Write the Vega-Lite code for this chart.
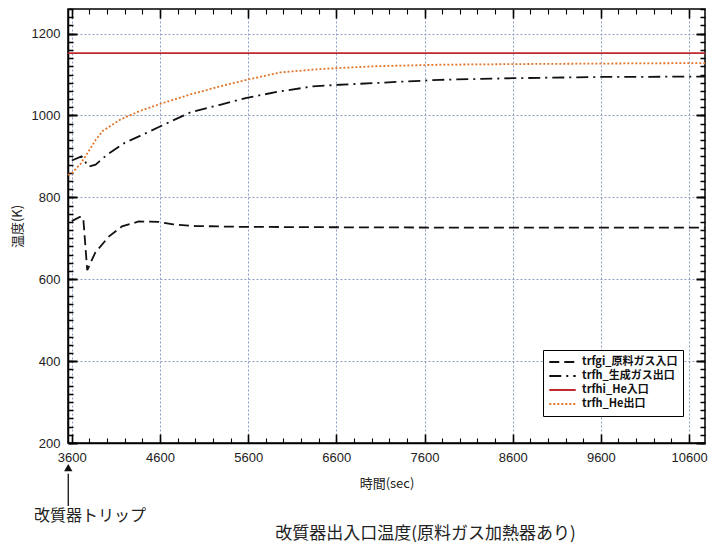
{
  "$schema": "https://vega.github.io/schema/vega-lite/v6.json",
  "width": 637,
  "height": 434,
  "autosize": {"type": "none"},
  "padding": {"left": 68, "top": 9, "right": 10, "bottom": 107},
  "background": "white",
  "config": {
    "view": {"stroke": "black", "strokeWidth": 1.5},
    "font": "Liberation Sans",
    "axis": {"labelColor": "#222", "labelFontSize": 13, "titleColor": "#222", "titleFontWeight": "normal", "domainColor": "black", "tickColor": "black"}
  },
  "title": {"text": "改質器出入口温度(原料ガス加熱器あり)", "orient": "bottom", "anchor": "middle", "dx": 39, "offset": 2, "fontSize": 17, "font": "Noto Sans CJK JP", "fontWeight": "normal", "color": "#222"},
  "datasets": {
    "series": [
      {"s": "trfgi_原料ガス入口", "t": 3600, "T": 742},
      {"s": "trfgi_原料ガス入口", "t": 3690, "T": 752},
      {"s": "trfgi_原料ガス入口", "t": 3730, "T": 750},
      {"s": "trfgi_原料ガス入口", "t": 3775, "T": 622},
      {"s": "trfgi_原料ガス入口", "t": 3866, "T": 665},
      {"s": "trfgi_原料ガス入口", "t": 4019, "T": 704},
      {"s": "trfgi_原料ガス入口", "t": 4169, "T": 729},
      {"s": "trfgi_原料ガス入口", "t": 4359, "T": 741},
      {"s": "trfgi_原料ガス入口", "t": 4586, "T": 740},
      {"s": "trfgi_原料ガス入口", "t": 4750, "T": 734},
      {"s": "trfgi_原料ガス入口", "t": 5000, "T": 730},
      {"s": "trfgi_原料ガス入口", "t": 5500, "T": 728},
      {"s": "trfgi_原料ガス入口", "t": 6500, "T": 727},
      {"s": "trfgi_原料ガス入口", "t": 8000, "T": 726},
      {"s": "trfgi_原料ガス入口", "t": 10781, "T": 726},
      {"s": "trfh_生成ガス出口", "t": 3600, "T": 890},
      {"s": "trfh_生成ガス出口", "t": 3710, "T": 900},
      {"s": "trfh_生成ガス出口", "t": 3790, "T": 875},
      {"s": "trfh_生成ガス出口", "t": 3870, "T": 880},
      {"s": "trfh_生成ガス出口", "t": 4000, "T": 904},
      {"s": "trfh_生成ガス出口", "t": 4200, "T": 933},
      {"s": "trfh_生成ガス出口", "t": 4374, "T": 950},
      {"s": "trfh_生成ガス出口", "t": 4600, "T": 973},
      {"s": "trfh_生成ガス出口", "t": 4940, "T": 1007},
      {"s": "trfh_生成ガス出口", "t": 5281, "T": 1026},
      {"s": "trfh_生成ガス出口", "t": 5584, "T": 1043},
      {"s": "trfh_生成ガス出口", "t": 5963, "T": 1059},
      {"s": "trfh_生成ガス出口", "t": 6336, "T": 1071},
      {"s": "trfh_生成ガス出口", "t": 6642, "T": 1075},
      {"s": "trfh_生成ガス出口", "t": 7014, "T": 1079},
      {"s": "trfh_生成ガス出口", "t": 7774, "T": 1087},
      {"s": "trfh_生成ガス出口", "t": 8600, "T": 1091},
      {"s": "trfh_生成ガス出口", "t": 9600, "T": 1094},
      {"s": "trfh_生成ガス出口", "t": 10781, "T": 1095},
      {"s": "trfhi_He入口", "t": 3557, "T": 1152},
      {"s": "trfhi_He入口", "t": 10781, "T": 1152},
      {"s": "trfh_He出口", "t": 3557, "T": 855},
      {"s": "trfh_He出口", "t": 3600, "T": 859},
      {"s": "trfh_He出口", "t": 3700, "T": 882},
      {"s": "trfh_He出口", "t": 3790, "T": 912},
      {"s": "trfh_He出口", "t": 3870, "T": 940},
      {"s": "trfh_He出口", "t": 3950, "T": 962},
      {"s": "trfh_He出口", "t": 4150, "T": 990},
      {"s": "trfh_He出口", "t": 4374, "T": 1011},
      {"s": "trfh_He出口", "t": 4600, "T": 1028},
      {"s": "trfh_He出口", "t": 4940, "T": 1051},
      {"s": "trfh_He出口", "t": 5281, "T": 1071},
      {"s": "trfh_He出口", "t": 5584, "T": 1087},
      {"s": "trfh_He出口", "t": 5963, "T": 1105},
      {"s": "trfh_He出口", "t": 6336, "T": 1112},
      {"s": "trfh_He出口", "t": 6642, "T": 1116},
      {"s": "trfh_He出口", "t": 7014, "T": 1120},
      {"s": "trfh_He出口", "t": 7774, "T": 1124},
      {"s": "trfh_He出口", "t": 9000, "T": 1126},
      {"s": "trfh_He出口", "t": 10781, "T": 1128}
    ],
    "arrow": [
      {"t": 3560, "T": 46, "T2": 125}
    ],
    "head": [
      {"t": 3560, "T": 140}
    ],
    "label": [
      {"t": 3806, "T": 22, "txt": "改質器トリップ"}
    ]
  },
  "resolve": {"axis": {"x": "independent", "y": "independent"}},
  "layer": [
    {
      "data": {"name": "series"},
      "mark": {"type": "line", "opacity": 0},
      "encoding": {
        "x": {"field": "t", "type": "quantitative", "axis": {"orient": "bottom", "values": [3600, 3800, 4000, 4200, 4400, 4600, 4800, 5000, 5200, 5400, 5600, 5800, 6000, 6200, 6400, 6600, 6800, 7000, 7200, 7400, 7600, 7800, 8000, 8200, 8400, 8600, 8800, 9000, 9200, 9400, 9600, 9800, 10000, 10200, 10400, 10600], "labels": false, "ticks": false, "domain": false, "grid": true, "gridColor": "black", "gridWidth": 1.1, "gridDash": [5, 424, 5, 0], "title": null}},
        "y": {"field": "T", "type": "quantitative", "axis": {"orient": "left", "values": [200, 220, 240, 260, 280, 300, 320, 340, 360, 380, 400, 420, 440, 460, 480, 500, 520, 540, 560, 580, 600, 620, 640, 660, 680, 700, 720, 740, 760, 780, 800, 820, 840, 860, 880, 900, 920, 940, 960, 980, 1000, 1020, 1040, 1060, 1080, 1100, 1120, 1140, 1160, 1180, 1200, 1220, 1240, 1260], "labels": false, "ticks": false, "domain": false, "grid": true, "gridColor": "black", "gridWidth": 1.3, "gridDash": [5, 627, 5, 0], "title": null}}
      }
    },
    {
      "data": {"name": "series"},
      "mark": {"type": "line"},
      "encoding": {
        "x": {"field": "t", "type": "quantitative", "scale": {"domain": [3557, 10781], "nice": false, "zero": false},
          "axis": {"orient": "bottom", "values": [3600, 4600, 5600, 6600, 7600, 8600, 9600, 10600], "format": "d", "grid": true, "gridDash": [2, 2], "gridColor": "#8e9cc4", "gridWidth": 1, "ticks": false, "labelPadding": 8, "domainWidth": 1.5, "title": "時間(sec)", "titleFont": "Noto Sans CJK JP", "titleFontSize": 13, "titlePadding": 13}},
        "y": {"field": "T", "type": "quantitative", "scale": {"domain": [200, 1260], "nice": false, "zero": false},
          "axis": {"orient": "left", "values": [200, 400, 600, 800, 1000, 1200], "format": "d", "grid": true, "gridDash": [2, 2], "gridColor": "#8e9cc4", "gridWidth": 1, "ticks": false, "labelPadding": 8, "domainWidth": 1.5, "title": "温度(K)", "titleFont": "Noto Sans CJK JP", "titleFontSize": 13, "titlePadding": 7}},
        "color": {"field": "s", "type": "nominal",
          "scale": {"domain": ["trfgi_原料ガス入口", "trfh_生成ガス出口", "trfhi_He入口", "trfh_He出口"], "range": ["#111111", "#111111", "#bf2a2e", "#e0752a"]},
          "legend": {"title": null, "orient": "none", "legendX": 475, "legendY": 341, "strokeColor": "black", "fillColor": "white", "padding": 5, "labelFont": "Noto Sans CJK JP", "labelFontSize": 11, "labelFontWeight": "bold", "labelColor": "#111", "symbolType": "stroke", "symbolSize": 700, "clipHeight": 14, "rowPadding": 0, "labelOffset": 5}},
        "strokeDash": {"field": "s", "type": "nominal",
          "scale": {"domain": ["trfgi_原料ガス入口", "trfh_生成ガス出口", "trfhi_He入口", "trfh_He出口"], "range": [[10, 5], [12, 5, 2, 5], [1, 0], [2, 2]]},
          "legend": {"title": null}},
        "strokeWidth": {"field": "s", "type": "nominal",
          "scale": {"domain": ["trfgi_原料ガス入口", "trfh_生成ガス出口", "trfhi_He入口", "trfh_He出口"], "range": [1.8, 1.8, 3.5, 2]},
          "legend": {"title": null}}
      }
    },
    {
      "data": {"name": "series"},
      "mark": {"type": "line", "opacity": 0},
      "encoding": {
        "x": {"field": "t", "type": "quantitative", "axis": {"orient": "top", "values": [3600, 4600, 5600, 6600, 7600, 8600, 9600, 10600], "labels": false, "ticks": false, "domain": false, "grid": true, "gridColor": "black", "gridWidth": 1.6, "gridDash": [9, 416, 9, 0], "title": null}},
        "y": {"field": "T", "type": "quantitative", "axis": {"orient": "right", "values": [200, 400, 600, 800, 1000, 1200], "labels": false, "ticks": false, "domain": false, "grid": true, "gridColor": "black", "gridWidth": 1.8, "gridDash": [9, 619, 9, 0], "title": null}}
      }
    },
    {
      "data": {"name": "arrow"},
      "mark": {"type": "rule", "color": "#111", "strokeWidth": 1.3},
      "encoding": {
        "x": {"field": "t", "type": "quantitative", "axis": null},
        "y": {"field": "T", "type": "quantitative", "axis": null},
        "y2": {"field": "T2"}
      }
    },
    {
      "data": {"name": "head"},
      "mark": {"type": "point", "shape": "triangle-up", "filled": true, "color": "#111", "size": 70, "opacity": 1},
      "encoding": {
        "x": {"field": "t", "type": "quantitative", "axis": null},
        "y": {"field": "T", "type": "quantitative", "axis": null}
      }
    },
    {
      "data": {"name": "label"},
      "mark": {"type": "text", "font": "Noto Sans CJK JP", "fontSize": 16, "color": "#222"},
      "encoding": {
        "x": {"field": "t", "type": "quantitative", "axis": null},
        "y": {"field": "T", "type": "quantitative", "axis": null},
        "text": {"field": "txt"}
      }
    }
  ]
}
